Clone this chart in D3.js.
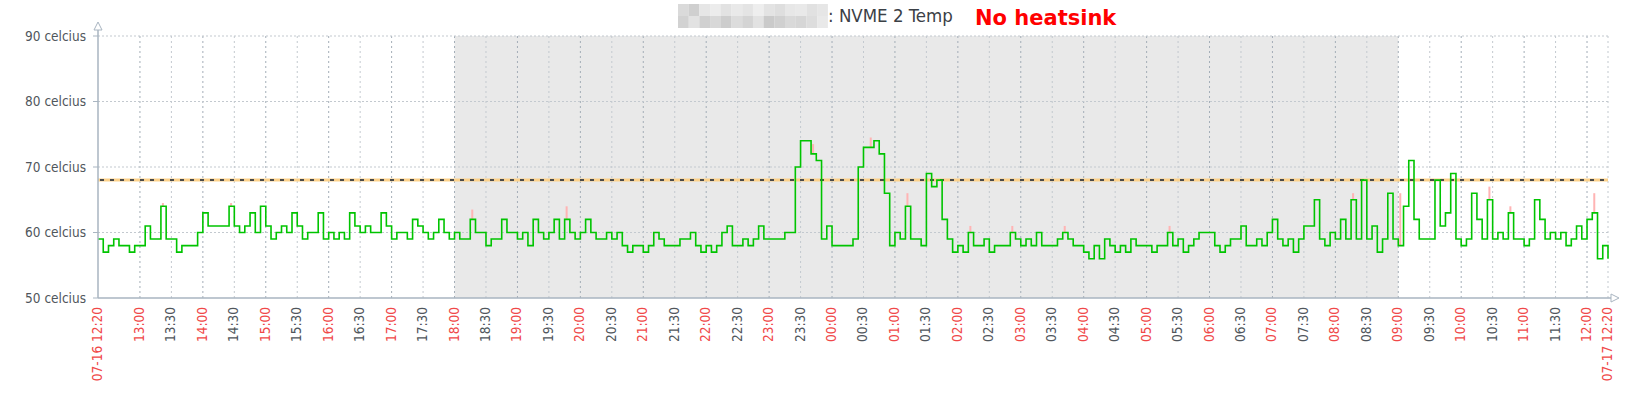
<!DOCTYPE html>
<html>
<head>
<meta charset="utf-8">
<script src="https://cdn.jsdelivr.net/npm/d3@7"></script>
<style>
  body { margin: 0; background: #fff; }
  svg { display: block; font-family: "DejaVu Sans Condensed", "DejaVu Sans", sans-serif; }
</style>
</head>
<body>
<div id="chart"></div>
<script>
const width = 1645, height = 394;

//////////// data: 5 minute samples of NVME 2 temperature ////////////
const startTime = "2024-07-16 12:20";
const endTime = "2024-07-17 12:20";
const stepMinutes = 5;

// 07-16 12:20 - 17:55
const tempsAfternoon = [
  59, 57, 58, 59, 58, 58, 57, 58,
  58, 61, 59, 59, 64, 59,
  59, 57, 58, 58, 58, 60,
  63, 61, 61, 61, 61, 64,
  61, 60, 61, 63, 60, 64,
  61, 59, 60, 61, 60, 63,
  61, 59, 60, 60, 63, 59,
  60, 59, 60, 59, 63, 61,
  60, 61, 60, 60, 63, 61,
  59, 60, 60, 59, 62, 61,
  60, 59, 60, 62, 60, 59
];
// 18:00 - 08:55 (night, shaded)
const tempsNight = [
  60, 59, 59, 62, 60, 60,
  58, 59, 59, 62, 60, 60,
  59, 60, 58, 62, 60, 59,
  60, 62, 59, 62, 60, 59,
  60, 62, 60, 59, 59, 60,
  59, 60, 58, 57, 58, 58,
  57, 58, 60, 59, 58, 58,
  58, 59, 59, 60, 58, 57,
  58, 57, 58, 60, 61, 58,
  58, 59, 58, 59, 61, 59,
  59, 59, 59, 60, 60, 70,
  74, 74, 72, 71, 59, 61,
  58, 58, 58, 58, 59, 70,
  73, 73, 74, 72, 66, 58,
  60, 59, 64, 59, 59, 58,
  69, 67, 68, 62, 59, 57,
  58, 57, 60, 58, 58, 59,
  57, 58, 58, 58, 60, 59,
  58, 59, 58, 60, 58, 58,
  58, 59, 60, 59, 58, 58,
  57, 56, 58, 56, 59, 58,
  57, 58, 57, 59, 58, 58,
  58, 57, 58, 58, 60, 58,
  59, 57, 58, 59, 60, 60,
  60, 58, 57, 58, 59, 59,
  61, 58, 58, 59, 58, 60,
  62, 59, 58, 59, 57, 59,
  61, 61, 65, 59, 58, 60,
  59, 62, 59, 65, 59, 68,
  59, 61, 57, 59, 66, 59
];
// 09:00 - 07-17 12:20
const tempsMorning = [
  58, 64, 71, 62, 59, 59,
  59, 68, 61, 63, 69, 59,
  58, 59, 66, 62, 59, 65,
  59, 60, 59, 63, 59, 59,
  58, 59, 65, 62, 59, 60,
  59, 60, 58, 59, 61, 59,
  62, 63, 56, 58, 56
];

// short max peaks (pink)
const maxTimes = ["07-16 13:20", "07-16 14:25", "07-16 18:15", "07-16 19:45", "07-16 23:40",
  "07-17 00:35", "07-17 01:10", "07-17 02:10", "07-17 02:50", "07-17 03:40", "07-17 05:20",
  "07-17 08:15", "07-17 09:00", "07-17 10:25", "07-17 10:45", "07-17 12:05"];
const maxValues = [64.5, 64.5, 63.5, 64, 73.5, 74.5, 66, 61, 61, 61, 61, 66, 66, 67, 64, 66];

const threshold = 68;
const yTicks = [50, 60, 70, 80, 90];
const nightStart = "2024-07-16 18:00";
const nightEnd = "2024-07-17 09:00";
const hostShades = [
  ["#dadada", "#cfcfcf", "#e6e6e6", "#ececec", "#e2e2e2", "#e9e9e9", "#e4e4e4", "#eeeeee", "#e3e3e3", "#dedede", "#e7e7e7", "#e9e9e9", "#e1e1e1", "#e6e6e6"],
  ["#d2d2d2", "#e2e2e2", "#d0d0d0", "#d8d8d8", "#cdcdcd", "#dcdcdc", "#d4d4d4", "#e2e2e2", "#cacaca", "#d0d0d0", "#d9d9d9", "#d6d6d6", "#dddddd", "#e9e9e9"]
];

//////////// setup ////////////
const parse = d3.timeParse("%Y-%m-%d %H:%M");
const t0 = parse(startTime), t1 = parse(endTime);
const temps = tempsAfternoon.concat(tempsNight, tempsMorning);
const series = temps.map((v, i) => ({ t: d3.timeMinute.offset(t0, i * stepMinutes), v: v }));
const peaks = maxTimes.map((s, i) => ({ t: parse("2024-" + s), v: maxValues[i] }));

const x = d3.scaleTime().domain([t0, t1]).range([98, 1608]);
const y = d3.scaleLinear().domain([50, 90]).range([298, 36]);
const axisColor = "#a9b5c1";

const svg = d3.select("#chart").append("svg")
  .attr("width", width)
  .attr("height", height);

//night shading
svg.append("rect")
  .attr("x", x(parse(nightStart)))
  .attr("y", y(90))
  .attr("width", x(parse(nightEnd)) - x(parse(nightStart)))
  .attr("height", y(50) - y(90))
  .attr("fill", "#e9e9e9");

//time ticks every 30 min, skip those too close to the ends
let ticks = x.ticks(d3.timeMinute.every(30))
  .filter((d) => d - t0 > 15 * 60000 && t1 - d > 15 * 60000);

//vertical grid
svg.append("g").selectAll("line")
  .data(ticks.concat([t1]))
  .enter().append("line")
  .attr("x1", (d) => x(d)).attr("x2", (d) => x(d))
  .attr("y1", y(90)).attr("y2", y(50))
  .attr("stroke", (d) => d.getMinutes() === 0 ? "#a3adb7" : "#c3c9cf")
  .attr("stroke-dasharray", "2,3");

//horizontal grid
svg.append("g").selectAll("line")
  .data(yTicks.filter((d) => d > 50))
  .enter().append("line")
  .attr("x1", x(t0)).attr("x2", x(t1))
  .attr("y1", (d) => y(d)).attr("y2", (d) => y(d))
  .attr("stroke", "#c3c9cf")
  .attr("stroke-dasharray", "2,2");

//threshold line
svg.append("line")
  .attr("x1", x(t0)).attr("x2", x(t1))
  .attr("y1", y(threshold)).attr("y2", y(threshold))
  .attr("stroke", "#fcd18a").attr("stroke-width", 3);
svg.append("line")
  .attr("x1", x(t0) + 2).attr("x2", x(t1))
  .attr("y1", y(threshold)).attr("y2", y(threshold))
  .attr("stroke", "#4a4a4a").attr("stroke-width", 2)
  .attr("stroke-dasharray", "4,6");

//pink max peaks
const lookup = d3.bisector((d) => d.t).right;
svg.append("g").selectAll("rect")
  .data(peaks)
  .enter().append("rect")
  .attr("x", (d) => x(d.t) + 1)
  .attr("y", (d) => y(d.v))
  .attr("width", 2)
  .attr("height", (d) => {
    const s = series[Math.max(0, lookup(series, d.t) - 1)];
    return Math.max(0, y(s.v) - y(d.v));
  })
  .attr("fill", "#ffb4b4");

//temperature line
const line = d3.line()
  .x((d) => x(d.t))
  .y((d) => y(d.v))
  .curve(d3.curveStepAfter);
svg.append("path")
  .datum(series)
  .attr("d", line)
  .attr("fill", "none")
  .attr("stroke", "#00c400")
  .attr("stroke-width", 1.6);

//axes
svg.append("line")
  .attr("x1", x(t0)).attr("x2", x(t0))
  .attr("y1", y(50)).attr("y2", 29)
  .attr("stroke", axisColor).attr("stroke-width", 1.5);
svg.append("path")
  .attr("d", `M${x(t0) - 4},30 L${x(t0)},22 L${x(t0) + 4},30 Z`)
  .attr("fill", "#fff").attr("stroke", axisColor);
svg.append("line")
  .attr("x1", x(t0)).attr("x2", 1612)
  .attr("y1", y(50)).attr("y2", y(50))
  .attr("stroke", axisColor).attr("stroke-width", 1.5);
svg.append("path")
  .attr("d", `M1611,${y(50) - 4} L1619,${y(50)} L1611,${y(50) + 4} Z`)
  .attr("fill", "#fff").attr("stroke", axisColor);

//y labels
svg.append("g").selectAll("text")
  .data(yTicks)
  .enter().append("text")
  .attr("x", 86)
  .attr("y", (d) => y(d))
  .attr("dy", "0.36em")
  .attr("text-anchor", "end")
  .attr("font-size", "13.5px")
  .attr("fill", "#50565c")
  .text((d) => d + " celcius");
svg.append("g").selectAll("line")
  .data(yTicks)
  .enter().append("line")
  .attr("x1", 93).attr("x2", 98)
  .attr("y1", (d) => y(d)).attr("y2", (d) => y(d))
  .attr("stroke", axisColor);

//x labels
const fmtTime = d3.timeFormat("%H:%M");
const fmtDate = d3.timeFormat("%m-%d %H:%M");
const labels = [t0].concat(ticks, [t1]);
svg.append("g").selectAll("text")
  .data(labels)
  .enter().append("text")
  .attr("transform", (d) => `translate(${x(d) + 4},307) rotate(-90)`)
  .attr("text-anchor", "end")
  .attr("font-size", "13.5px")
  .attr("fill", (d) => d.getMinutes() === 0 || d === t0 || d === t1 ? "#f04848" : "#50565c")
  .text((d) => d === t0 || d === t1 ? fmtDate(d) : fmtTime(d));

//title: blurred host name + item name
const title = svg.append("g");
hostShades.forEach((row, r) => {
  title.selectAll(null)
    .data(row)
    .enter().append("rect")
    .attr("x", (d, i) => 678 + i * 10.7)
    .attr("y", 4 + r * 12)
    .attr("width", 10.8)
    .attr("height", 12)
    .attr("fill", (d) => d);
});
title.append("text")
  .attr("x", 828).attr("y", 22)
  .attr("font-size", "18.5px")
  .attr("fill", "#3b4046")
  .text(": NVME 2 Temp");
title.append("text")
  .attr("x", 975).attr("y", 25)
  .attr("font-family", "DejaVu Sans")
  .attr("font-weight", "bold")
  .attr("font-size", "21px")
  .attr("fill", "#ff0000")
  .text("No heatsink");
</script>
</body>
</html>
